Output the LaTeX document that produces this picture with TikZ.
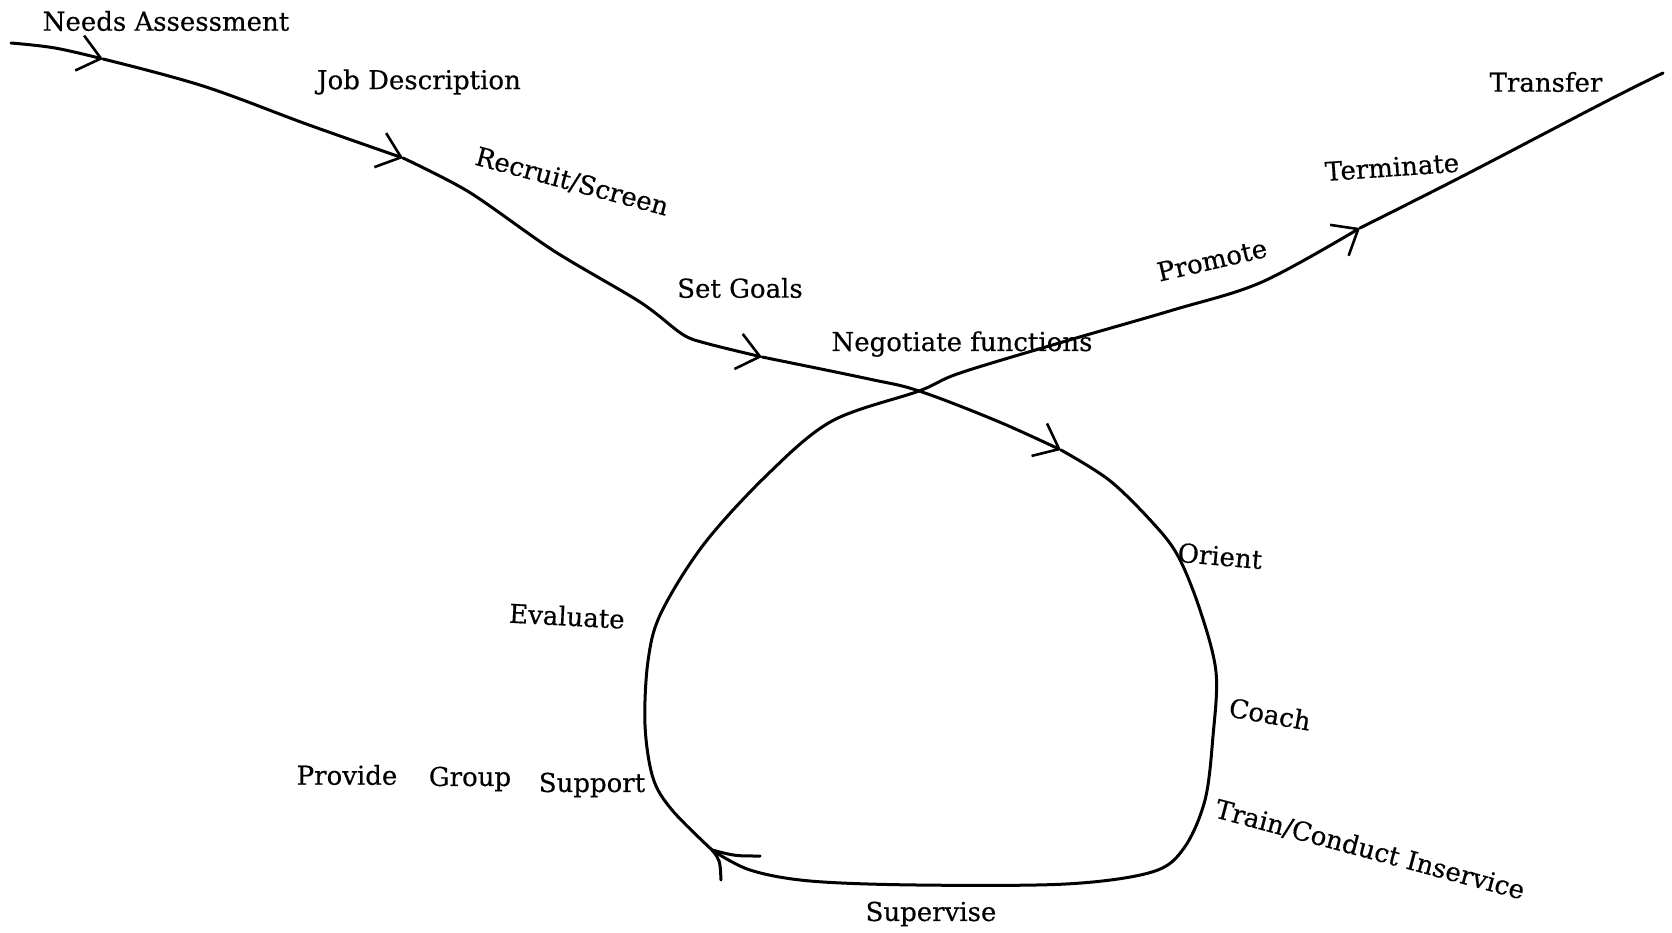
\documentclass[tikz,border=0pt]{standalone}
\usepackage{fontspec}
\setmainfont{DejaVu Serif}
\newfontfamily\lblfont[FakeBold=0.4]{DejaVu Serif}
\usetikzlibrary{arrows.meta}
\tikzset{
  flow/.style={line width=3pt, line cap=round, line join=round},
  tip/.style={-{Straight Barb[length=22pt,width=36pt,line width=2.6pt]}},
  lbl/.style={font=\lblfont\fontsize{26}{30}\selectfont, inner sep=0pt},
}
\begin{document}
\begin{tikzpicture}[x=1pt,y=-1pt]
\useasboundingbox (0,0) rectangle (1672,933);
% waypoints
\coordinate (s0) at (11,43);
\coordinate (t1) at (103,59);
\coordinate (t2) at (403,158);
\coordinate (t3) at (762,357);
\coordinate (x0) at (919,391);
\coordinate (t4) at (1061,450);
\coordinate (t6) at (712,850);
\coordinate (t5) at (1360,228);
\coordinate (e0) at (1663,73);
\coordinate (b1) at (760,856);
\coordinate (b2) at (721,880);
% path
\draw[flow,tip] plot[smooth,tension=0.6] coordinates {(s0) (55,48) (t1)};
\draw[flow,tip] plot[smooth,tension=0.6] coordinates {(t1) (203,86) (309,125) (t2)};
\draw[flow,tip] plot[smooth,tension=0.5] coordinates {(t2) (469,192) (554,251) (640,302) (682,334) (705,343) (t3)};
\draw[flow,tip] plot[smooth,tension=0.6] coordinates {(t3) (869,379) (x0) (997,421) (t4)};
\draw[flow] plot[smooth,tension=0.55] coordinates {(t4) (1109,480) (1152,522) (1178,556) (1200,610) (1216,672) (1213,736) (1205,800) (1184,848) (1152,872) (1066,884) (917,885) (810,881) (750,870) (t6)};
\draw[flow] (t6) .. controls (735,856) .. (b1);
\draw[flow] (t6) .. controls (720,860) .. (b2);
\draw[flow,tip] plot[smooth,tension=0.55] coordinates {(t6) (672,810) (653,778) (645,725) (648,661) (661,613) (704,544) (768,474) (832,421) (x0) (960,373) (1066,341) (1173,310) (1262,282) (t5)};
\draw[flow] plot[smooth,tension=0.6] coordinates {(t5) (1463,176) (1605,102) (e0)};
% labels
\node[lbl] (na) at (166,21) {Needs Assessment};
\node[lbl] (jd) at (419,82) {Job Description};
\node[lbl,rotate=-15] (rs) at (572,182) {Recruit/Screen};
\node[lbl] (sg) at (740,288) {Set Goals};
\node[lbl] (nf) at (962,344) {Negotiate functions};
\node[lbl,rotate=-5] (or) at (1220,556) {Orient};
\node[lbl,rotate=-10] (co) at (1270,714) {Coach};
\node[lbl,rotate=-15] (tc) at (1370,850) {Train/Conduct Inservice};
\node[lbl] (su) at (931,914) {Supervise};
\node[lbl,rotate=-3] (ev) at (567,616) {Evaluate};
\node[lbl] (pr) at (347,775) {Provide};
\node[lbl] (gr) at (470,779) {Group};
\node[lbl] (sp) at (592,785) {Support};
\node[lbl,rotate=13] (pm) at (1212,260) {Promote};
\node[lbl,rotate=4] (te) at (1392,167) {Terminate};
\node[lbl] (tr) at (1546,82) {Transfer};
\end{tikzpicture}
\end{document}
